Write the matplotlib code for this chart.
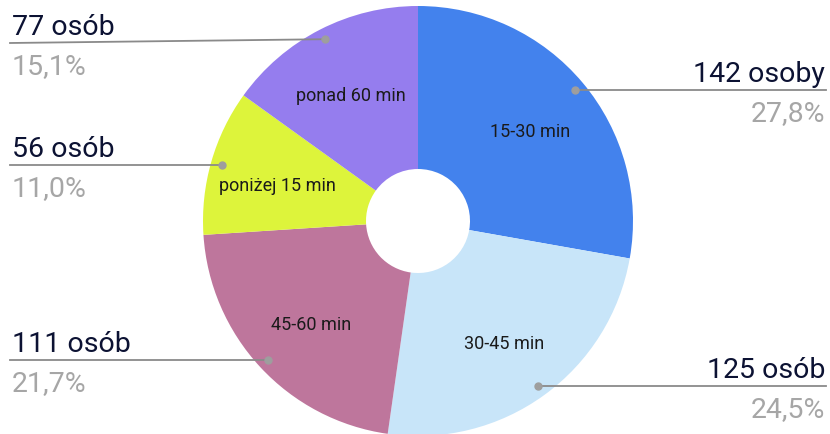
import numpy as np
import matplotlib
matplotlib.use("Agg")
import matplotlib.pyplot as plt

plt.rcParams["font.family"] = ["Roboto", "DejaVu Sans"]

# dane
kategorie = ["15-30 min", "30-45 min", "45-60 min", "poniżej 15 min", "ponad 60 min"]
liczby = [142, 125, 111, 56, 77]
opisy = ["142 osoby", "125 osób", "111 osób", "56 osób", "77 osób"]
kolory = ["#4382ED", "#C8E5F9", "#BE769C", "#DDF43B", "#957DEE"]

W, H = 830, 435
fig = plt.figure(figsize=(W / 100, H / 100), dpi=100)
ax = fig.add_axes([0, 0, 1, 1])

cx, cy, R, r_hole = 418, 213, 215, 52
wedges, _ = ax.pie(liczby, colors=kolory, startangle=90, counterclock=False,
                   center=(cx, cy), radius=R,
                   wedgeprops=dict(width=R - r_hole, linewidth=0))
ax.set_xlim(0, W)
ax.set_ylim(0, H)
ax.set_aspect("equal")
ax.axis("off")

total = sum(liczby)
for w, kat, n, opis in zip(wedges, kategorie, liczby, opisy):
    mid = np.deg2rad((w.theta1 + w.theta2) / 2)
    # etykieta w srodku pierscienia
    ax.text(cx + 0.68 * R * np.cos(mid), cy + 0.68 * R * np.sin(mid) - 4, kat,
            ha="center", va="center", fontsize=13, color="#1a1a1a")
    # kropka i linia
    dx, dy = cx + 0.95 * R * np.cos(mid), cy + 0.95 * R * np.sin(mid)
    ly = min(dy, H - 44)
    if dx > cx:
        ax.plot([dx, 826], [dy, ly], color="#8a8a8a", lw=1.3, zorder=3)
        tx, ha = 825, "right"
    else:
        ax.plot([10, dx], [ly, dy], color="#8a8a8a", lw=1.3, zorder=3)
        tx, ha = 12, "left"
    ax.plot(dx, dy, "o", color="#9e9e9e", ms=5, zorder=4)
    pct = f"{100 * n / total:.1f}%".replace(".", ",")
    ax.text(tx, ly + 9, opis, ha=ha, va="baseline", fontsize=20.5, color="#0c1233")
    ax.text(tx, ly - 30, pct, ha=ha, va="baseline", fontsize=20.5, color="#a6a6a6")

fig.savefig("out.png", dpi=100)
